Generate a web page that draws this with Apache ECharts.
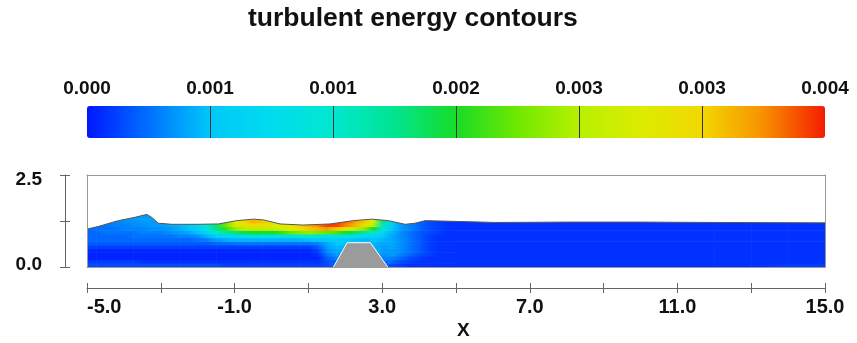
<!DOCTYPE html>
<html>
<head>
<meta charset="utf-8">
<title>turbulent energy contours</title>
<script src="https://cdn.jsdelivr.net/npm/echarts@6.0.0/dist/echarts.min.js"></script>
<style>
  html, body { margin: 0; padding: 0; background: #fff; }
  #chart { width: 857px; height: 343px; }
</style>
</head>
<body>
<div id="chart"></div>
<script>
// x stations of the contour columns
const xStations = [
  -5, -4.75, -4.5, -4.25, -4, -3.75, -3.5, -3.25, -3, -2.75, -2.5, -2.25, -2, -1.75, -1.5, -1.25,
  -1, -0.75, -0.5, -0.25, 0, 0.25, 0.5, 0.75, 1, 1.25, 1.5, 1.75, 2, 2.25, 2.5, 2.75,
  3, 3.25, 3.5, 3.75, 4, 4.25, 4.5, 4.75, 5, 6, 7, 8, 9, 10, 11, 12, 13, 14, 15
];
// row centres (bottom first)
const yRows = [0.05, 0.15, 0.25, 0.35, 0.45, 0.55, 0.65, 0.75, 0.85, 0.95, 1.05, 1.15, 1.25, 1.35, 1.45];
// turbulent energy per x station, bottom row first, in units of 1e-4
const tkeColumns = [
  [2, 1.5, 0.5, 0.5, 0.5, 1.5, 2.5, 3, 3, 3, 3, 3, 3, 3, 3],
  [2, 1.5, 0.5, 0.5, 0.5, 1.5, 2.5, 3, 3, 3, 3.5, 3.5, 3.5, 3.5, 3.5],
  [2, 1.5, 0.5, 0.5, 0.5, 1.5, 2.5, 3, 3, 3.5, 3.5, 3.5, 3.5, 3.5, 3.5],
  [2, 1.5, 0.5, 0.5, 0.5, 1.5, 2.5, 3, 3, 3.5, 3.5, 4, 4, 4, 4],
  [2, 1.5, 0.5, 0.5, 0.5, 1.5, 2.5, 3, 3, 3.5, 4, 4, 4.5, 4.5, 4.5],
  [2, 1.5, 0.5, 0.5, 0.5, 1.5, 2.5, 3, 3.5, 3.5, 4, 4.5, 4.5, 5, 5],
  [2, 1, 0.5, 0.5, 0.5, 1.5, 2.5, 3, 3.5, 4, 4, 4.5, 5, 5, 5],
  [2, 1, 0.5, 0.5, 0.5, 1.5, 2.5, 3, 3.5, 4, 4.5, 5, 5, 5, 5],
  [2, 1, 0.5, 0.5, 0.5, 1.5, 2.5, 3, 3.5, 4, 4.5, 5, 5, 5, 5],
  [2, 1, 0.5, 0.5, 0.5, 1.5, 2.5, 3, 3.5, 4.5, 5, 5.5, 5.5, 5.5, 5.5],
  [2, 1, 0.5, 0.5, 0.5, 1.5, 2.5, 3, 4, 5, 5.5, 6, 6, 6, 6],
  [2, 1, 0.5, 0.5, 0.5, 1.5, 2.5, 3, 4, 5.5, 6.5, 7, 7, 7, 7],
  [2, 1, 0.5, 0.5, 0.5, 1.5, 2.5, 3.5, 4.5, 6.5, 8, 9, 9, 9, 9],
  [2, 1, 0.5, 0.5, 0.5, 1.5, 2.5, 4, 6, 9, 12, 13, 13, 13, 13],
  [2, 1, 0.5, 0.5, 0.5, 1.5, 3, 5, 8, 13, 17, 18, 18, 18, 18],
  [1.5, 1, 0.5, 0.5, 0.5, 1.5, 3, 5.5, 9, 16, 21, 23, 23, 23, 23],
  [1.5, 1, 0.5, 0.5, 0.5, 1.5, 3.5, 6, 9, 17, 25, 29, 30, 30, 30],
  [1.5, 1, 0.5, 0.5, 0.5, 1.5, 3.5, 6, 10, 19, 27, 32, 33, 33, 33],
  [1.5, 1, 0.5, 0.5, 0.5, 1.5, 3.5, 6, 11, 20, 27, 33, 35, 35, 35],
  [1.5, 1, 0.5, 0.5, 0.5, 1.5, 3.5, 6, 11, 20, 27, 33, 34, 34, 34],
  [1.5, 1, 0.5, 0.5, 0.5, 1.5, 3.5, 6, 11, 20, 28, 31, 31, 31, 31],
  [1.5, 1, 0.5, 0.5, 0.5, 1.5, 3.5, 6, 11, 21, 29, 30, 30, 30, 30],
  [1.5, 1, 0.5, 0.5, 0.5, 1.5, 3.5, 6, 12, 23, 30, 31, 31, 31, 31],
  [1.5, 1, 0.5, 0.5, 0.5, 1.5, 3.5, 6, 12, 24, 32, 33, 33, 33, 33],
  [1.5, 1, 0.5, 0.5, 0.5, 1.5, 3.5, 6.5, 13, 25, 34, 35, 35, 35, 35],
  [1.5, 1, 0.5, 1, 1.5, 2.5, 4, 7, 12, 24, 35, 37, 37, 37, 37],
  [2, 2, 2.5, 3.5, 4.5, 5, 5.5, 7, 11, 23, 36, 39, 39, 39, 39],
  [3, 3, 4, 5, 5.5, 6, 6.5, 7.5, 11, 22, 34, 39, 39, 39, 39],
  [5, 5, 5, 5, 5.5, 6, 6.5, 7, 11, 20, 31, 37, 38, 38, 38],
  [6, 6, 6, 6, 6, 6, 6, 6.5, 10, 18, 28, 35, 36, 36, 36],
  [6, 6, 6, 6, 6, 6, 6, 6, 9, 16, 25, 32, 34, 34, 34],
  [6, 6, 6, 6, 6, 6, 6, 6.5, 9, 13, 20, 27, 30, 30, 30],
  [3, 3.5, 4, 4.5, 5, 5, 5.5, 6, 7, 9, 12, 15, 17, 17, 17],
  [2, 3, 4, 5, 5, 5.5, 5.5, 5.5, 5.5, 6, 7, 8, 8, 8, 8],
  [1.5, 2, 3, 4, 4.5, 4.5, 4.5, 4.5, 4.5, 4.5, 5, 5, 5, 5, 5],
  [1, 1.5, 2, 3, 3.5, 3.5, 3.5, 3.5, 3.5, 3.5, 4, 4, 4, 4, 4],
  [1, 1, 1.5, 2, 2.5, 2.5, 2.5, 2.5, 2.5, 2.5, 3, 3, 3, 3, 3],
  [1, 1, 1, 1.5, 1.5, 1.5, 1.5, 1.5, 1.5, 2, 2, 2, 2, 2, 2],
  [1, 1, 1, 1, 1, 1, 1, 1, 1, 1.5, 1.5, 1.5, 1.5, 1.5, 1.5],
  [1, 1, 1, 1, 1, 1, 1, 1, 1, 1, 1, 1, 1, 1, 1],
  [1, 1, 1, 1, 1, 1, 1, 1, 1, 1, 1, 1, 1, 1, 1],
  [1, 1, 1, 1, 1, 1, 1, 1, 1, 1, 1, 1, 1, 1, 1],
  [1, 1, 1, 1, 1, 1, 1, 1, 1, 1, 1, 1, 1, 1, 1],
  [1, 1, 1, 1, 1, 1, 1, 1, 1, 1, 1, 1, 1, 1, 1],
  [1, 1, 1, 1, 1, 1, 1, 1, 1, 1, 1, 1, 1, 1, 1],
  [1, 1, 1, 1, 1, 1, 1, 1, 1, 1, 1, 1, 1, 1, 1],
  [1, 1, 1, 1, 1, 1, 1, 1, 1, 1, 1, 1, 1, 1, 1],
  [1, 1, 1, 1, 1, 1, 1, 1, 1, 1, 1, 1, 1, 1, 1],
  [1, 1, 1, 1, 1, 1, 1, 1, 1, 1, 1, 1, 1, 1, 1],
  [1.5, 1, 1, 1, 1, 1, 1, 1, 1, 1, 1, 1, 1, 1, 1],
  [1.5, 1, 1, 1, 1, 1, 1, 1, 1, 1, 1, 1, 1, 1, 1]
];
const tkeUnit = 1e-4;

// free surface
const surfaceX = [-5, -4.7, -4.15, -3.7, -3.38, -3.25, -3.07, -2.7, -2.0, -1.44, -0.94, -0.49, -0.22,
  0.23, 0.86, 1.59, 2.22, 2.72, 3.17, 3.62, 3.89, 4.16, 4.97, 6.06, 8, 10, 12, 15];
const surfaceY = [1.03, 1.10, 1.26, 1.35, 1.43, 1.35, 1.19, 1.16, 1.16, 1.17, 1.26, 1.30, 1.28,
  1.17, 1.14, 1.17, 1.26, 1.30, 1.26, 1.16, 1.19, 1.26, 1.24, 1.21, 1.22, 1.22, 1.21, 1.20];

// bed obstacle
const obstacleX = [1.68, 2.05, 2.68, 3.15];
const obstacleY = [0, 0.66, 0.66, 0];

const xTickValues = [-5, -3, -1, 1, 3, 5, 7, 9, 11, 13, 15];
const xTickLabels = ['-5.0', '', '-1.0', '', '3.0', '', '7.0', '', '11.0', '', '15.0'];
const yTickValues = [0, 1.25, 2.5];
const yTickLabels = ['{lo|0.0}', '', '{hi|2.5}'];
const colorbarLabels = ['0.000', '0.001', '0.001', '0.002', '0.003', '0.003', '0.004'];

const xMin = -5, xMax = 15, yMin = 0, yMax = 2.5;
const rowHalf = 0.05;
const nRows = yRows.length;

// one item per station and row; each item spans from its station to the next one
const fieldData = [];
xStations.forEach((x, i) => {
  const xNext = i === xStations.length - 1 ? x : xStations[i + 1];
  yRows.forEach((y, r) => {
    fieldData.push([x, xNext, y - rowHalf, y + rowHalf, tkeColumns[i][r] * tkeUnit]);
  });
});

const font = 'Liberation Sans, Arial, Helvetica, sans-serif';
const lbl = { color: '#111', fontWeight: 'bold', fontFamily: font };

const boxAxis = (pos) => ({
  gridIndex: 0, type: 'value', position: pos, offset: 0, z: 10,
  axisLine: { show: true, onZero: false, lineStyle: { color: '#999' } },
  axisTick: { show: false }, axisLabel: { show: false }, splitLine: { show: false }
});

const myChart = echarts.init(document.getElementById('chart'));
myChart.setOption({
  animation: false,
  backgroundColor: '#fff',
  title: [
    { text: 'turbulent energy contours', left: 248, top: 5, padding: 0,
      textStyle: { ...lbl, fontSize: 26.5 } },
    { text: 'X', left: 457, top: 321, padding: 0, textStyle: { ...lbl, fontSize: 19 } }
  ],
  grid: [
    { left: 87, top: 175, width: 738, height: 92, outerBoundsMode: 'none' },
    { left: 87, top: 106, width: 738, height: 32, outerBoundsMode: 'none' }
  ],
  visualMap: {
    type: 'continuous',
    seriesIndex: 0,
    dimension: 4,
    min: 0,
    max: 0.004,
    orient: 'horizontal',
    left: 87,
    top: 106,
    padding: 0,
    itemWidth: 32,
    itemHeight: 738,
    calculable: false,
    hoverLink: false,
    inRange: {
      color: ['#0016ff', '#0070ff', '#00c8fa', '#00dced', '#00e8d0', '#00e490', '#18dc28',
        '#70e800', '#b8f000', '#dcec00', '#f2d800', '#f89000', '#f41c00']
    }
  },
  xAxis: [
    { gridIndex: 0, type: 'value', min: xMin, max: xMax, interval: 2, position: 'bottom', offset: 21,
      axisLine: { show: true, onZero: false, lineStyle: { color: '#666' } },
      axisTick: { show: true, length: 5, lineStyle: { color: '#666' } },
      axisLabel: { ...lbl, fontSize: 20, margin: 9, alignMinLabel: 'left',
        formatter: v => { const k = xTickValues.indexOf(v); return k < 0 ? '' : xTickLabels[k]; } },
      splitLine: { show: false } },
    { gridIndex: 0, type: 'value', min: xMin, max: xMax, interval: 2, position: 'bottom', offset: 21,
      axisLine: { show: false, onZero: false },
      axisTick: { show: true, inside: true, length: 5, lineStyle: { color: '#666' } },
      axisLabel: { show: false }, splitLine: { show: false } },
    { ...boxAxis('top'), min: xMin, max: xMax },
    { ...boxAxis('bottom'), min: xMin, max: xMax },
    { gridIndex: 1, type: 'category', data: colorbarLabels, boundaryGap: false, position: 'top', z: 10,
      axisLine: { show: false }, axisTick: { show: false },
      axisLabel: { ...lbl, fontSize: 19, margin: 8, interval: 0 },
      splitLine: { show: true, interval: 0, showMinLine: false, showMaxLine: false,
        lineStyle: { color: '#333', width: 1 } } }
  ],
  yAxis: [
    { gridIndex: 0, type: 'value', min: yMin, max: yMax, interval: 1.25, position: 'left', offset: 22,
      axisLine: { show: true, onZero: false, lineStyle: { color: '#666' } },
      axisTick: { show: true, length: 5, lineStyle: { color: '#666' } },
      axisLabel: { ...lbl, fontSize: 19, margin: 23,
        rich: {
          hi: { ...lbl, fontSize: 19, padding: [10, 0, 0, 0] },
          lo: { ...lbl, fontSize: 19, padding: [0, 0, 5, 0] }
        },
        formatter: v => { const k = yTickValues.indexOf(v); return k < 0 ? '' : yTickLabels[k]; } },
      splitLine: { show: false } },
    { gridIndex: 0, type: 'value', min: yMin, max: yMax, interval: 1.25, position: 'left', offset: 22,
      axisLine: { show: false, onZero: false },
      axisTick: { show: true, inside: true, length: 5, lineStyle: { color: '#666' } },
      axisLabel: { show: false }, splitLine: { show: false } },
    { ...boxAxis('left'), min: yMin, max: yMax },
    { ...boxAxis('right'), min: yMin, max: yMax },
    { gridIndex: 1, type: 'value', min: 0, max: 1, show: false }
  ],
  series: [
    {
      // contour cells, shaded from each station's colour to the next station's colour
      type: 'custom',
      xAxisIndex: 0,
      yAxisIndex: 0,
      silent: true,
      z: 1,
      encode: { x: [0, 1], y: [2, 3] },
      data: fieldData,
      renderItem: (params, api) => {
        const x0 = api.value(0), x1 = api.value(1);
        if (x1 <= x0) return null;
        const a = api.coord([x0, api.value(3)]);
        const b = api.coord([x1, api.value(2)]);
        const c0 = api.visual('color');
        const c1 = api.visual('color', params.dataIndexInside + nRows);
        return {
          type: 'rect',
          shape: { x: a[0], y: a[1], width: b[0] - a[0] + 0.6, height: b[1] - a[1] + 0.6 },
          style: {
            fill: {
              type: 'linear', x: 0, y: 0, x2: 1, y2: 0,
              colorStops: [{ offset: 0, color: c0 }, { offset: 1, color: c1 }]
            }
          }
        };
      }
    },
    {
      // air above the free surface
      type: 'custom',
      xAxisIndex: 0,
      yAxisIndex: 0,
      silent: true,
      z: 2,
      data: [[xMin, yMax]],
      renderItem: (params, api) => {
        const pts = surfaceX.map((x, k) => api.coord([x, surfaceY[k]]));
        pts.push(api.coord([xMax, yMax]));
        pts.push(api.coord([xMin, yMax]));
        return { type: 'polygon', shape: { points: pts }, style: { fill: '#fff' } };
      }
    },
    {
      type: 'line',
      xAxisIndex: 0,
      yAxisIndex: 0,
      z: 3,
      silent: true,
      showSymbol: false,
      data: surfaceX.map((x, k) => [x, surfaceY[k]]),
      lineStyle: { color: '#555', width: 1 }
    },
    {
      type: 'line',
      xAxisIndex: 0,
      yAxisIndex: 0,
      z: 4,
      silent: true,
      showSymbol: false,
      data: obstacleX.map((x, k) => [x, obstacleY[k]]),
      lineStyle: { color: '#fff', width: 1 },
      areaStyle: { color: '#9b9b9b', opacity: 1 }
    }
  ]
});

window.addEventListener('resize', () => { myChart.resize(); });
</script>
</body>
</html>
